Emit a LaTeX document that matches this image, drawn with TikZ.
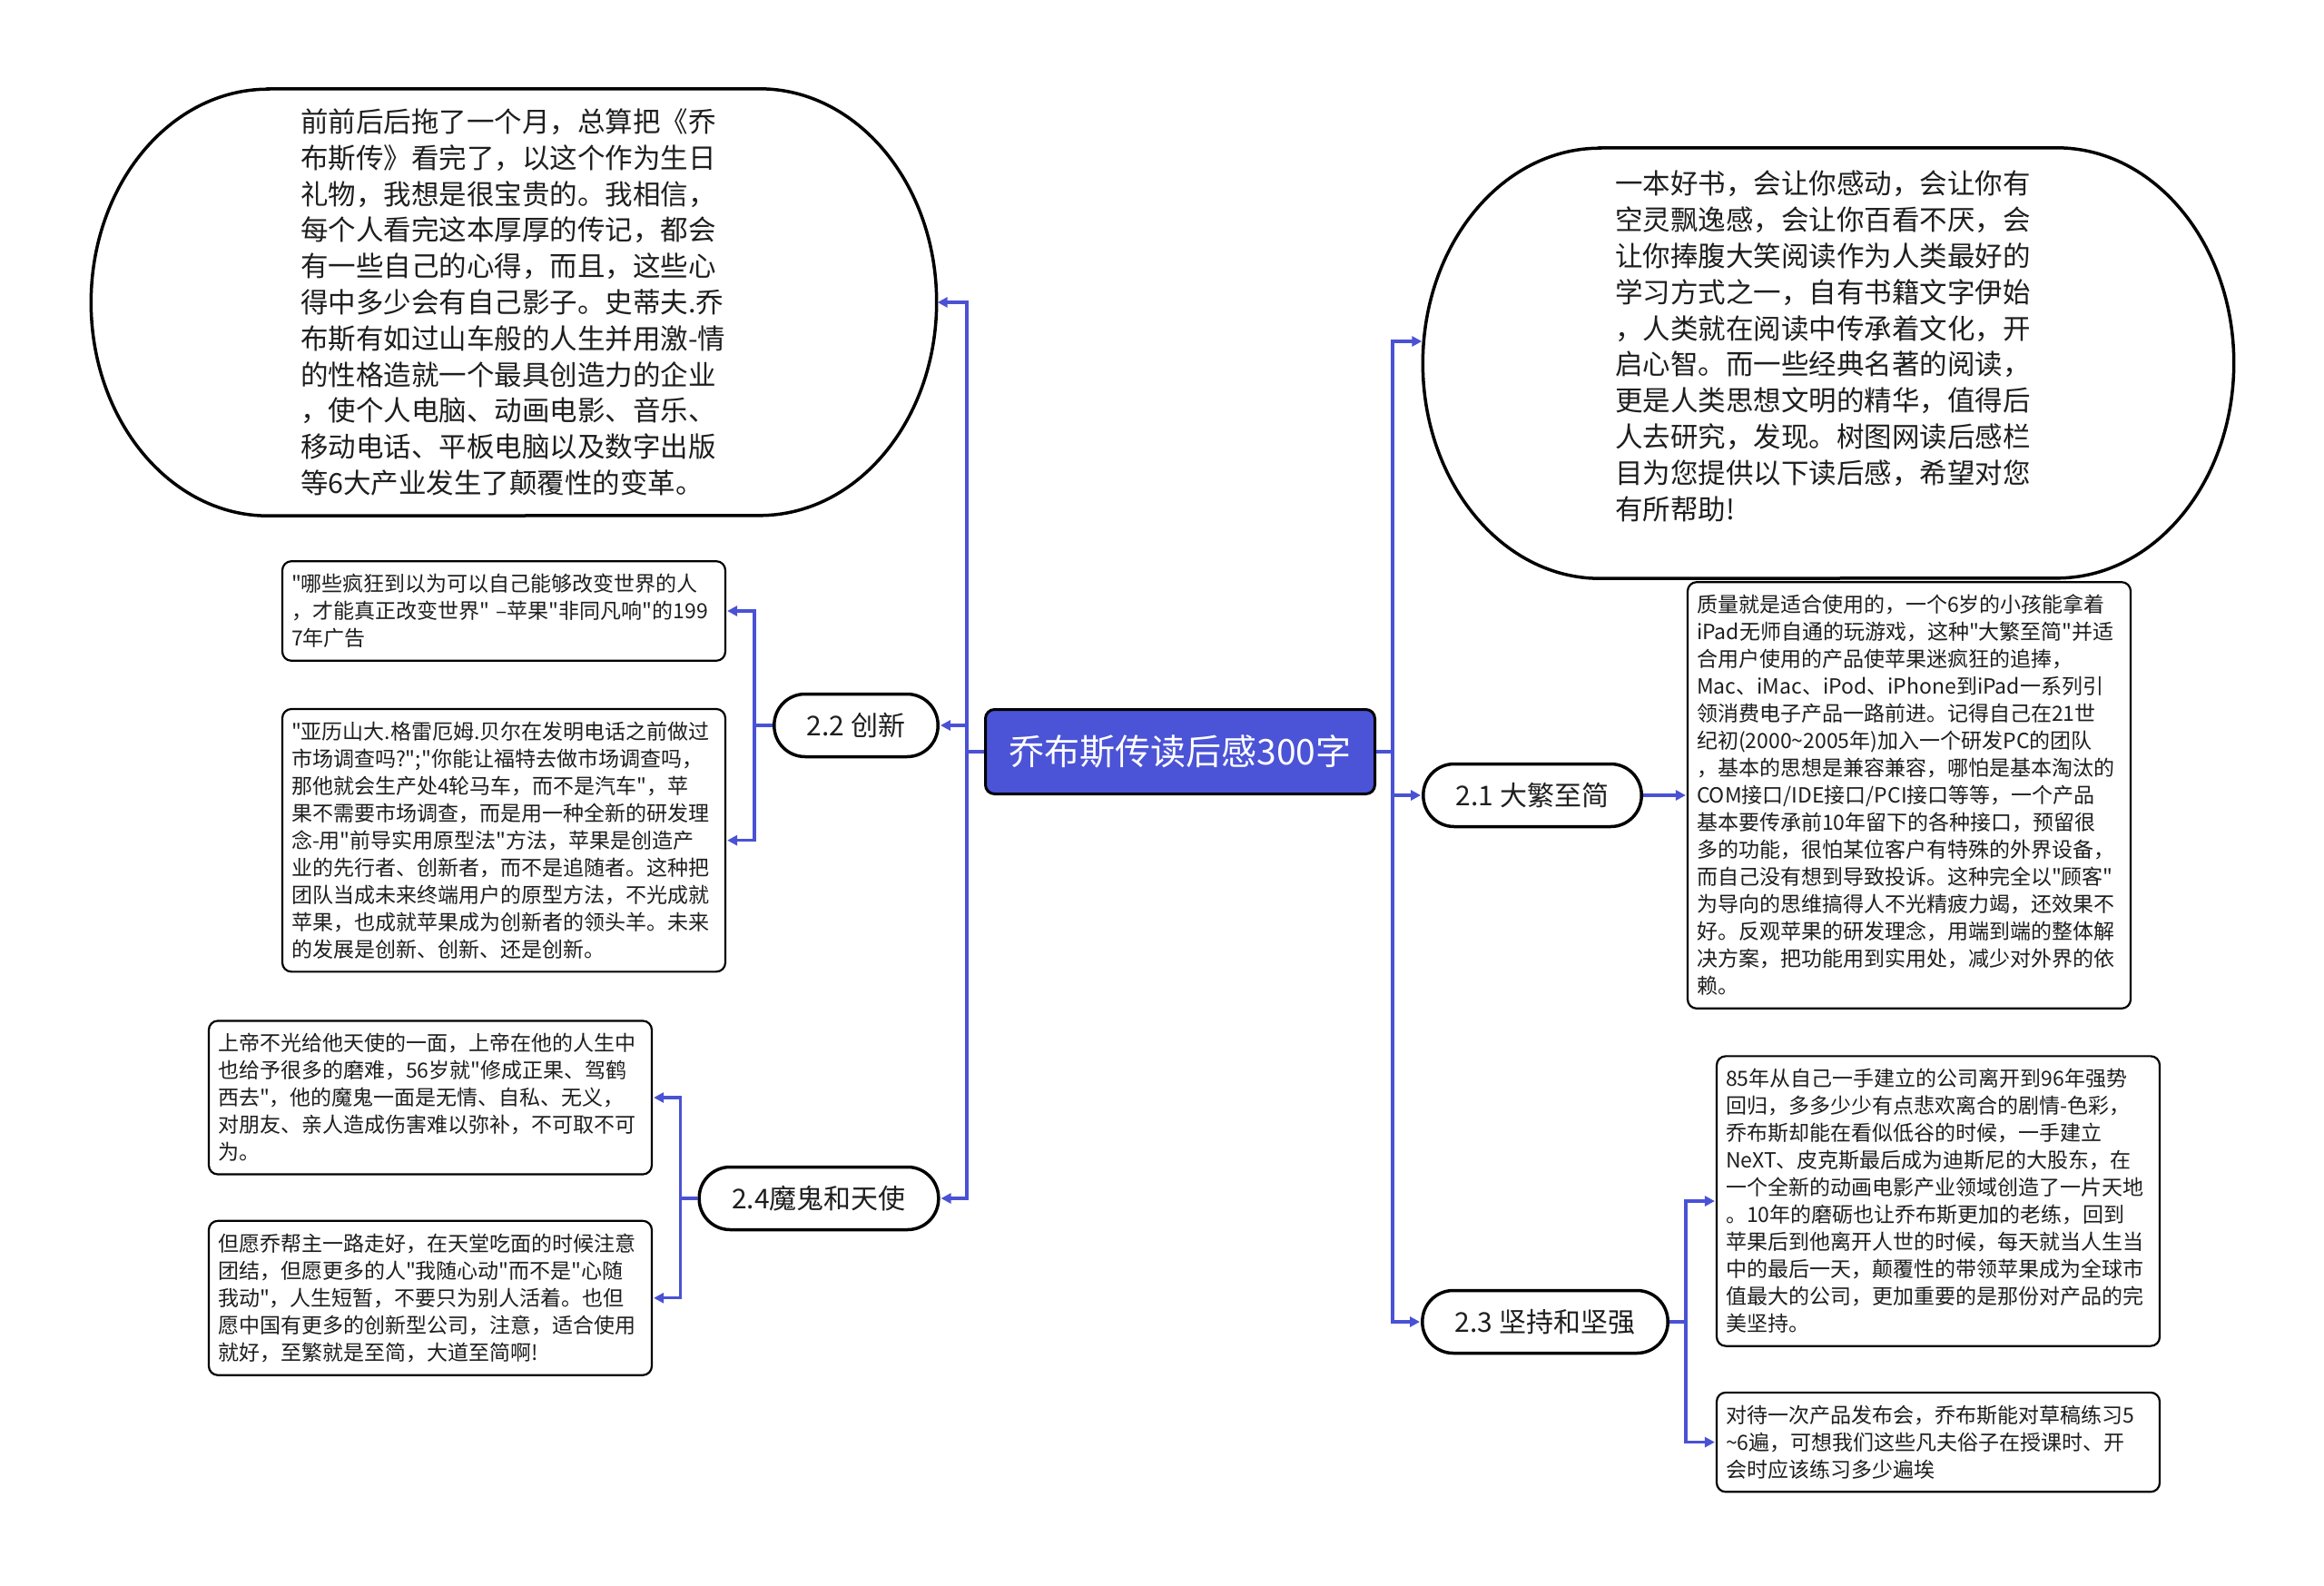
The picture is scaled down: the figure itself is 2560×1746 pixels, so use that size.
\documentclass[tikz,border=0pt]{standalone}
\usepackage{fontspec}
\setmainfont{Noto Sans CJK SC}[Ligatures=TeXOff]
\usepackage{xcolor}
\usetikzlibrary{arrows.meta,positioning}
\definecolor{mapblue}{HTML}{4A52D4}
\definecolor{rootfill}{HTML}{4B53D6}
\definecolor{ink}{HTML}{1E1E1E}

\newcommand\ovalframe[2]{%
  \draw[ovalline] ([xshift=195pt]#1.north west) -- ([xshift=-195pt]#1.north east)
    arc[start angle=90, end angle=-90, x radius=195pt, y radius=#2pt]
    -- ([xshift=195pt]#1.south west)
    arc[start angle=270, end angle=90, x radius=195pt, y radius=#2pt] -- cycle;}

\begin{document}
\begin{tikzpicture}[x=1pt, y=-1pt,
  rootbox/.style={draw=black, line width=3pt, fill=rootfill, rounded corners=10pt, minimum width=429pt, minimum height=93pt, text=white, font=\fontsize{39}{44}\selectfont},
  topic/.style={draw=black, line width=3.5pt, fill=white, rounded corners=34pt, minimum height=69pt, inner xsep=36pt, text=ink, font=\fontsize{30}{36}\selectfont},
  leaf/.style={draw=black, line width=2.2pt, fill=white, rounded corners=10pt, text width=468pt, inner xsep=10pt, inner ysep=14pt, align=left, text=ink, font=\fontsize{23}{30}\selectfont},
  oval/.style={inner sep=0pt, text width=470pt, align=left, text=ink, font=\fontsize{30.5}{39.8}\selectfont},
  ovalline/.style={draw=black, line width=3.5pt},
  arr/.style={-{Triangle[length=11pt,width=11pt]}, line width=3.2pt, color=mapblue, shorten >=1pt},
]
  \fill[white] (0,0) rectangle (2560,1746);
  \useasboundingbox (0,0) rectangle (2560,1746);

  \node[rootbox] (book) at (1300,828) {乔布斯传读后感300字};

  \node[oval, minimum width=931pt, minimum height=470pt] (preface) at (566,333) {前前后后拖了一个月，总算把《乔\\布斯传》看完了，以这个作为生日\\礼物，我想是很宝贵的。我相信，\\每个人看完这本厚厚的传记，都会\\有一些自己的心得，而且，这些心\\得中多少会有自己影子。史蒂夫.乔\\布斯有如过山车般的人生并用激-情\\的性格造就一个最具创造力的企业\\，使个人电脑、动画电影、音乐、\\移动电话、平板电脑以及数字出版\\等6大产业发生了颠覆性的变革。};
  \ovalframe{preface}{235}
  \node[oval, minimum width=893pt, minimum height=474pt] (goodbook) at (2014,400) {一本好书，会让你感动，会让你有\\空灵飘逸感，会让你百看不厌，会\\让你捧腹大笑阅读作为人类最好的\\学习方式之一，自有书籍文字伊始\\，人类就在阅读中传承着文化，开\\启心智。而一些经典名著的阅读，\\更是人类思想文明的精华，值得后\\人去研究，发现。树图网读后感栏\\目为您提供以下读后感，希望对您\\有所帮助!\\\mbox{}};
  \ovalframe{goodbook}{237}

  \node[topic] (inno) at (943,799) {2.2 创新};
  \node[topic] (angel) at (902,1320) {2.4魔鬼和天使};
  \node[topic] (simple) at (1688,876) {2.1 大繁至简};
  \node[topic] (persist) at (1702,1456) {2.3 坚持和坚强};

  \node[leaf] (ad1997) at (555,673) {"哪些疯狂到以为可以自己能够改变世界的人\\，才能真正改变世界" –苹果"非同凡响"的199\\7年广告};
  \node[leaf, below=51pt of ad1997] (research) {"亚历山大.格雷厄姆.贝尔在发明电话之前做过\\市场调查吗?";"你能让福特去做市场调查吗，\\那他就会生产处4轮马车，而不是汽车"，苹\\果不需要市场调查，而是用一种全新的研发理\\念-用"前导实用原型法"方法，苹果是创造产\\业的先行者、创新者，而不是追随者。这种把\\团队当成未来终端用户的原型方法，不光成就\\苹果，也成就苹果成为创新者的领头羊。未来\\的发展是创新、创新、还是创新。};
  \node[leaf] (god) at (474,1209) {上帝不光给他天使的一面，上帝在他的人生中\\也给予很多的磨难，56岁就"修成正果、驾鹤\\西去"，他的魔鬼一面是无情、自私、无义，\\对朋友、亲人造成伤害难以弥补，不可取不可\\为。};
  \node[leaf, below=49pt of god] (wish) {但愿乔帮主一路走好，在天堂吃面的时候注意\\团结，但愿更多的人"我随心动"而不是"心随\\我动"，人生短暂，不要只为别人活着。也但\\愿中国有更多的创新型公司，注意，适合使用\\就好，至繁就是至简，大道至简啊!};
  \node[leaf] (quality) at (2103,876) {质量就是适合使用的，一个6岁的小孩能拿着\\iPad无师自通的玩游戏，这种"大繁至简"并适\\合用户使用的产品使苹果迷疯狂的追捧，\\Mac、iMac、iPod、iPhone到iPad一系列引\\领消费电子产品一路前进。记得自己在21世\\纪初(2000\textasciitilde2005年)加入一个研发PC的团队\\，基本的思想是兼容兼容，哪怕是基本淘汰的\\COM接口/IDE接口/PCI接口等等，一个产品\\基本要传承前10年留下的各种接口，预留很\\多的功能，很怕某位客户有特殊的外界设备，\\而自己没有想到导致投诉。这种完全以"顾客"\\为导向的思维搞得人不光精疲力竭，还效果不\\好。反观苹果的研发理念，用端到端的整体解\\决方案，把功能用到实用处，减少对外界的依\\赖。};
  \node[leaf] (next) at (2135,1323) {85年从自己一手建立的公司离开到96年强势\\回归，多多少少有点悲欢离合的剧情-色彩，\\乔布斯却能在看似低谷的时候，一手建立\\NeXT、皮克斯最后成为迪斯尼的大股东，在\\一个全新的动画电影产业领域创造了一片天地\\。10年的磨砺也让乔布斯更加的老练，回到\\苹果后到他离开人世的时候，每天就当人生当\\中的最后一天，颠覆性的带领苹果成为全球市\\值最大的公司，更加重要的是那份对产品的完\\美坚持。};
  \node[leaf, below=49pt of next] (launch) {对待一次产品发布会，乔布斯能对草稿练习5\\\textasciitilde6遍，可想我们这些凡夫俗子在授课时、开\\会时应该练习多少遍埃};

  \draw[arr] (book.west) -- ++(-19,0) |- (preface.east);
  \draw[arr] (book.west) -- ++(-19,0) |- (inno.east);
  \draw[arr] (book.west) -- ++(-19,0) |- (angel.east);
  \draw[arr] (book.east) -- ++(18,0) |- ([yshift=24pt]goodbook.west);
  \draw[arr] (book.east) -- ++(18,0) |- (simple.west);
  \draw[arr] (book.east) -- ++(18,0) |- (persist.west);
  \draw[arr] (inno.west) -- ++(-20,0) |- (ad1997.east);
  \draw[arr] (inno.west) -- ++(-20,0) |- (research.east);
  \draw[arr] (angel.west) -- ++(-19,0) |- (god.east);
  \draw[arr] (angel.west) -- ++(-19,0) |- (wish.east);
  \draw[arr] (simple.east) -- (quality.west);
  \draw[arr] (persist.east) -- ++(18,0) |- (next.west);
  \draw[arr] (persist.east) -- ++(18,0) |- (launch.west);
\end{tikzpicture}
\end{document}
